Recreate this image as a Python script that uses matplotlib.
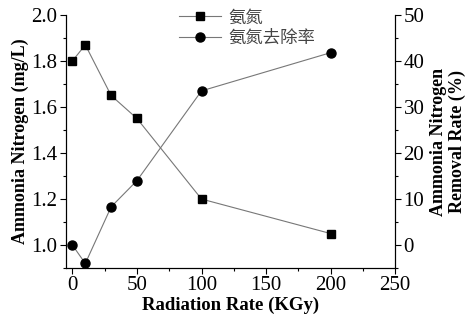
import matplotlib
matplotlib.use('Agg')
import matplotlib.pyplot as plt
from matplotlib.ticker import MultipleLocator

plt.rcParams['font.family'] = ['Liberation Serif', 'Noto Sans CJK SC']

# radiation dose (KGy)
dose = [0, 10, 30, 50, 100, 200]
# ammonia nitrogen (mg/L)
nh3 = [1.80, 1.87, 1.65, 1.55, 1.20, 1.05]
# removal rate (%)
removal = [0.0, -4.0, 8.3, 14.0, 33.5, 41.8]

fig = plt.figure(figsize=(4.71, 3.18), dpi=100)
ax1 = fig.add_axes([0.140, 0.157, 0.699, 0.796])
ax2 = ax1.twinx()

l1, = ax1.plot(dose, nh3, color='#777777', linewidth=0.8, marker='s',
               markersize=6, markerfacecolor='black', markeredgecolor='black',
               label='氨氮')
l2, = ax2.plot(dose, removal, color='#777777', linewidth=0.8, marker='o',
               markersize=6.5, markerfacecolor='black', markeredgecolor='black',
               label='氨氮去除率')

ax1.set_xlim(-5, 250)
ax1.set_ylim(0.9, 2.0)
ax2.set_ylim(-5, 50)

ax1.xaxis.set_major_locator(MultipleLocator(50))
ax1.xaxis.set_minor_locator(MultipleLocator(25))
ax1.yaxis.set_major_locator(MultipleLocator(0.2))
ax1.yaxis.set_minor_locator(MultipleLocator(0.1))
ax2.yaxis.set_major_locator(MultipleLocator(10))
ax2.yaxis.set_minor_locator(MultipleLocator(5))
ax1.yaxis.set_major_formatter(plt.FormatStrFormatter('%.1f'))

for ax in (ax1, ax2):
    ax.tick_params(which='major', direction='out', length=4, width=0.8, labelsize=15, pad=2)
    ax.tick_params(which='minor', direction='out', length=2.5, width=0.8)
    for s in ax.spines.values():
        s.set_linewidth(0.8)
ax2.spines['top'].set_visible(False)
ax1.spines['top'].set_visible(False)

ax1.set_xlabel('Radiation Rate (KGy)', fontsize=13.5, fontweight='bold', labelpad=1)
ax1.set_ylabel('Ammonia Nitrogen (mg/L)', fontsize=13, fontweight='bold', labelpad=2)
ax2.set_ylabel('Ammonia Nitrogen\nRemoval Rate (%)', fontsize=13, fontweight='bold',
               rotation=90, labelpad=4, linespacing=1.1)

leg = ax1.legend(handles=[l1, l2], loc='upper center', bbox_to_anchor=(0.55, 1.08),
                 frameon=False, fontsize=12.5, handlelength=2.4, handletextpad=0.4,
                 labelspacing=0.25)
for t in leg.get_texts():
    t.set_color('#444444')

fig.savefig('out.png', dpi=100)
